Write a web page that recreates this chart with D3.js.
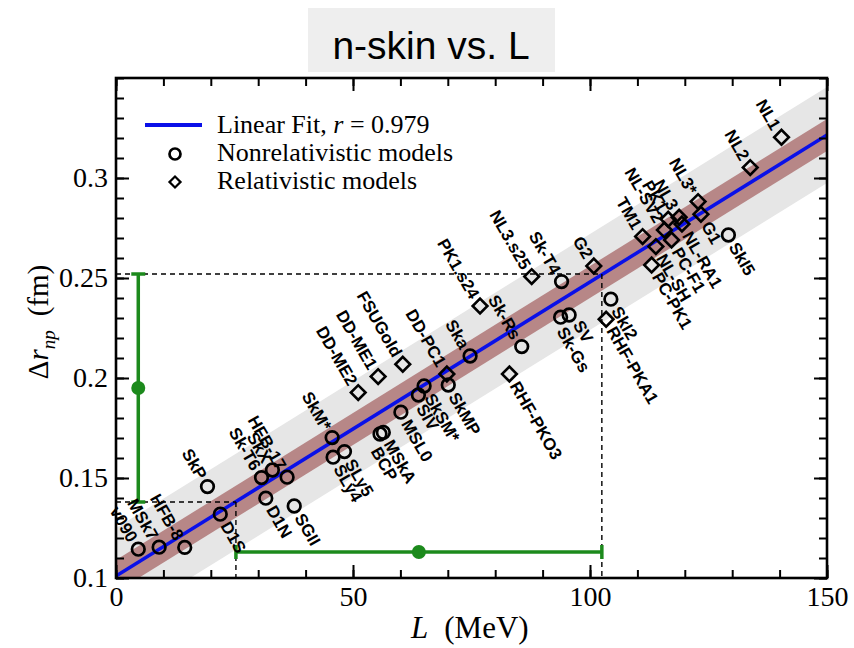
<!DOCTYPE html>
<html>
<head>
<meta charset="utf-8">
<script src="https://cdn.jsdelivr.net/npm/d3@7"></script>
<style>
  body { margin: 0; background: #fff; }
</style>
</head>
<body>
<div id="chart"></div>
<script>
// nonrelativistic (Skyrme / Gogny) models
const nonrelNames = ['v090', 'MSk7', 'HFB-8', 'D1S', 'SkP', 'Sk-T6', 'SkX', 'HFB-17', 'D1N', 'SGII',
  'SkM*', 'SLy5', 'SLy4', 'BCP', 'MSkA', 'MSL0', 'SIV', 'SkSM*', 'SkMP', 'Ska',
  'Sk-Rs', 'Sk-T4', 'SV', 'Sk-Gs', 'SkI2', 'SkI5'];
const nonrelL = [4.7, 9.1, 14.5, 22.0, 19.3, 30.7, 33.0, 36.1, 31.6, 37.6,
  45.6, 48.2, 45.8, 55.7, 56.4, 60.1, 63.8, 65.0, 70.1, 74.7,
  85.6, 94.0, 95.6, 93.8, 104.4, 129.2];
const nonrelR = [0.1144, 0.1154, 0.1153, 0.1319, 0.1457, 0.1502, 0.1540, 0.1504, 0.1399, 0.1360,
  0.1702, 0.1632, 0.1604, 0.1720, 0.1728, 0.1829, 0.1915, 0.1960, 0.1965, 0.2110,
  0.2157, 0.2482, 0.2315, 0.2304, 0.2394, 0.2715];
const nonrelSide = ['up', 'up', 'up', 'down', 'up', 'up', 'up', 'up', 'down', 'down',
  'up', 'down', 'down', 'down', 'down', 'down', 'down', 'down', 'down', 'up',
  'up', 'up', 'down', 'down', 'down', 'down'];

// relativistic mean-field models
const relNames = ['DD-ME2', 'DD-ME1', 'FSUGold', 'DD-PC1', 'PK1.s24', 'RHF-PKO3', 'NL3.s25', 'G2', 'RHF-PKA1',
  'TM1', 'NL-SV2', 'PK1', 'NL3', 'NL3*', 'G1', 'NL-RA1', 'PC-F1', 'NL-SH', 'PC-PK1', 'NL2', 'NL1'];
const relL = [51.1, 55.3, 60.5, 69.8, 76.8, 83.0, 87.7, 100.8, 103.4,
  111.1, 115.7, 116.5, 118.8, 122.8, 123.4, 119.4, 117.2, 113.9, 113.0, 133.8, 140.4];
const relR = [0.1927, 0.2007, 0.2069, 0.2020, 0.2360, 0.2020, 0.2507, 0.2560, 0.2294,
  0.2707, 0.2740, 0.2794, 0.2804, 0.2882, 0.2819, 0.2770, 0.2690, 0.2657, 0.2565, 0.3052, 0.3204];
const relSide = ['up', 'up', 'up', 'up', 'up', 'down', 'up', 'up', 'down',
  'up', 'up', 'up', 'up', 'up', 'down', 'down', 'down', 'down', 'down', 'up', 'up'];

// linear fit and its bands
const fitIntercept = 0.101, fitSlope = 0.00147, fitR = 0.979;
const bandInner = 0.008, bandOuter = 0.024;

// constraint: L range and skin range
const skinLow = 0.138, skinHigh = 0.252, skinMid = 0.195, skinAtL = 4.7;
const lLow = 25.3, lHigh = 102.5, lMid = 63.9, lAtSkin = 0.113;

const xTicks = [0, 50, 100, 150];
const yTicks = [0.1, 0.15, 0.2, 0.25, 0.3];

// manual label nudges (perpendicular to text direction)
const labelNudge = { 'BCP': 11, 'Sk-Gs': 5, 'SV': -4, 'SIV': 3 };

const width = 854, height = 648;
const svg = d3.select('#chart').append('svg').attr('width', width).attr('height', height);

const x = d3.scaleLinear().domain([0, 150]).range([116, 827]);
const y = d3.scaleLinear().domain([0.1, 0.35]).range([578, 78]);
const fit = L => fitIntercept + fitSlope * L;

// title
svg.append('rect').attr('x', 308).attr('y', 8).attr('width', 247).attr('height', 64).attr('fill', '#eeeeee');
svg.append('text').attr('x', 431).attr('y', 59).attr('text-anchor', 'middle')
  .style('font-family', 'Liberation Sans, Arial, sans-serif').style('font-size', '39px')
  .text('n-skin vs. L');

svg.append('defs').append('clipPath').attr('id', 'plotClip')
  .append('rect').attr('x', 116).attr('y', 78).attr('width', 711).attr('height', 500);

const plot = svg.append('g').attr('clip-path', 'url(#plotClip)');
const fitDomain = [0, 150];

const band = w => d3.area().x(d => x(d)).y0(d => y(fit(d) - w)).y1(d => y(fit(d) + w));
plot.append('path').datum(fitDomain).attr('d', band(bandOuter)).attr('fill', '#e6e6e6');
plot.append('path').datum(fitDomain).attr('d', band(bandInner)).attr('fill', '#b78787');
plot.append('path').datum(fitDomain)
  .attr('d', d3.line().x(d => x(d)).y(d => y(fit(d))))
  .attr('stroke', '#0a10e8').attr('stroke-width', 3.5).attr('fill', 'none');

// dashed guide lines
const dash = (x1, y1, x2, y2) => plot.append('line')
  .attr('x1', x1).attr('y1', y1).attr('x2', x2).attr('y2', y2)
  .attr('stroke', '#000').attr('stroke-width', 1.4).attr('stroke-dasharray', '5,4');
dash(x(0), y(skinHigh), x(lHigh), y(skinHigh));
dash(x(lHigh), y(skinHigh), x(lHigh), y(0.1));
dash(x(0), y(skinLow), x(lLow), y(skinLow));
dash(x(lLow), y(skinLow), x(lLow), y(0.1));

// green error bars
const green = '#1c8a1c';
const gbar = svg.append('g').attr('stroke', green).attr('stroke-width', 3.5);
gbar.append('line').attr('x1', x(skinAtL)).attr('x2', x(skinAtL)).attr('y1', y(skinHigh)).attr('y2', y(skinLow));
[skinHigh, skinLow].forEach(v => gbar.append('line')
  .attr('x1', x(skinAtL) - 7).attr('x2', x(skinAtL) + 7).attr('y1', y(v)).attr('y2', y(v)));
gbar.append('line').attr('x1', x(lLow)).attr('x2', x(lHigh)).attr('y1', y(lAtSkin)).attr('y2', y(lAtSkin));
[lLow, lHigh].forEach(v => gbar.append('line')
  .attr('x1', x(v)).attr('x2', x(v)).attr('y1', y(lAtSkin) - 7).attr('y2', y(lAtSkin) + 7));
svg.append('circle').attr('cx', x(skinAtL)).attr('cy', y(skinMid)).attr('r', 7).attr('fill', green);
svg.append('circle').attr('cx', x(lMid)).attr('cy', y(lAtSkin)).attr('r', 7).attr('fill', green);

// model points and labels
const diamond = d3.symbol().type(d3.symbolSquare).size(108);
function drawModels(names, Ls, Rs, sides, shape) {
  const g = svg.append('g');
  names.forEach((name, i) => {
    const p = g.append('g').attr('transform', `translate(${x(Ls[i])},${y(Rs[i])})`);
    if (shape === 'circle') {
      p.append('circle').attr('r', 6.3).attr('fill', 'none').attr('stroke', '#000').attr('stroke-width', 2.7);
    } else {
      p.append('path').attr('d', diamond()).attr('transform', 'rotate(45)')
        .attr('fill', 'none').attr('stroke', '#000').attr('stroke-width', 2.6);
    }
    const up = sides[i] === 'up';
    p.append('text')
      .attr('transform', `rotate(60) translate(0,${labelNudge[name] || 0})`)
      .attr('x', up ? -10 : 10).attr('dy', '0.35em')
      .attr('text-anchor', up ? 'end' : 'start')
      .style('font-family', 'Liberation Sans, Arial, sans-serif')
      .style('font-size', '17px').style('font-weight', 'bold')
      .text(name);
  });
}
drawModels(nonrelNames, nonrelL, nonrelR, nonrelSide, 'circle');
drawModels(relNames, relL, relR, relSide, 'diamond');

// axes with inward ticks
const serif = 'Liberation Serif, Times New Roman, serif';
function styleAxis(g) {
  g.select('.domain').remove();
  g.selectAll('.tick line').attr('stroke', '#000').attr('stroke-width', 2);
  g.selectAll('.tick text').style('font-family', serif).style('font-size', '28px').attr('fill', '#000');
}
const minorX = d3.range(0, 151, 10);
const minorY = d3.range(0, 26).map(i => 0.1 + i * 0.01);

svg.append('g').attr('transform', 'translate(0,578)')
  .call(d3.axisBottom(x).tickValues(xTicks).tickSize(-13).tickPadding(8).tickFormat(d3.format('d'))).call(styleAxis);
svg.append('g').attr('transform', 'translate(0,578)')
  .call(d3.axisBottom(x).tickValues(minorX).tickSize(-8).tickFormat('')).call(styleAxis);
svg.append('g').attr('transform', 'translate(0,78)')
  .call(d3.axisTop(x).tickValues(xTicks).tickSize(-13).tickFormat('')).call(styleAxis);
svg.append('g').attr('transform', 'translate(0,78)')
  .call(d3.axisTop(x).tickValues(minorX).tickSize(-8).tickFormat('')).call(styleAxis);
svg.append('g').attr('transform', 'translate(116,0)')
  .call(d3.axisLeft(y).tickValues(yTicks).tickSize(-13).tickPadding(8).tickFormat(d3.format('~g'))).call(styleAxis);
svg.append('g').attr('transform', 'translate(116,0)')
  .call(d3.axisLeft(y).tickValues(minorY).tickSize(-8).tickFormat('')).call(styleAxis);
svg.append('g').attr('transform', 'translate(827,0)')
  .call(d3.axisRight(y).tickValues(yTicks).tickSize(-13).tickFormat('')).call(styleAxis);
svg.append('g').attr('transform', 'translate(827,0)')
  .call(d3.axisRight(y).tickValues(minorY).tickSize(-8).tickFormat('')).call(styleAxis);

svg.append('rect').attr('x', 116).attr('y', 78).attr('width', 711).attr('height', 500)
  .attr('fill', 'none').attr('stroke', '#000').attr('stroke-width', 2.6);

// axis titles
const xt = svg.append('text').attr('x', 411).attr('y', 638)
  .style('font-family', serif).style('font-size', '31px');
xt.append('tspan').style('font-style', 'italic').text('L');
xt.append('tspan').attr('dx', 16).text('(MeV)');

const yt = svg.append('text').attr('transform', 'translate(48,322) rotate(-90)').attr('text-anchor', 'middle')
  .style('font-family', serif).style('font-size', '29px');
yt.append('tspan').text('Δ');
yt.append('tspan').style('font-style', 'italic').text('r');
yt.append('tspan').style('font-style', 'italic').style('font-size', '19px').attr('dy', 7).text('np');
yt.append('tspan').attr('dy', -7).attr('dx', 14).text('(fm)');

// legend
const leg = svg.append('g').style('font-family', serif).style('font-size', '26px');
leg.append('line').attr('x1', 145).attr('x2', 202).attr('y1', 125).attr('y2', 125)
  .attr('stroke', '#0a10e8').attr('stroke-width', 4);
const lt = leg.append('text').attr('x', 217).attr('y', 133);
lt.append('tspan').text('Linear Fit, ');
lt.append('tspan').style('font-style', 'italic').text('r');
lt.append('tspan').text(' = ' + fitR);
leg.append('circle').attr('cx', 175).attr('cy', 154).attr('r', 5.5).attr('fill', 'none')
  .attr('stroke', '#000').attr('stroke-width', 2.7);
leg.append('text').attr('x', 217).attr('y', 161).text('Nonrelativistic models');
leg.append('path').attr('d', diamond()).attr('transform', 'translate(175,182) rotate(45) scale(0.75)')
  .attr('fill', 'none').attr('stroke', '#000').attr('stroke-width', 3);
leg.append('text').attr('x', 217).attr('y', 189).text('Relativistic models');
</script>
</body>
</html>
